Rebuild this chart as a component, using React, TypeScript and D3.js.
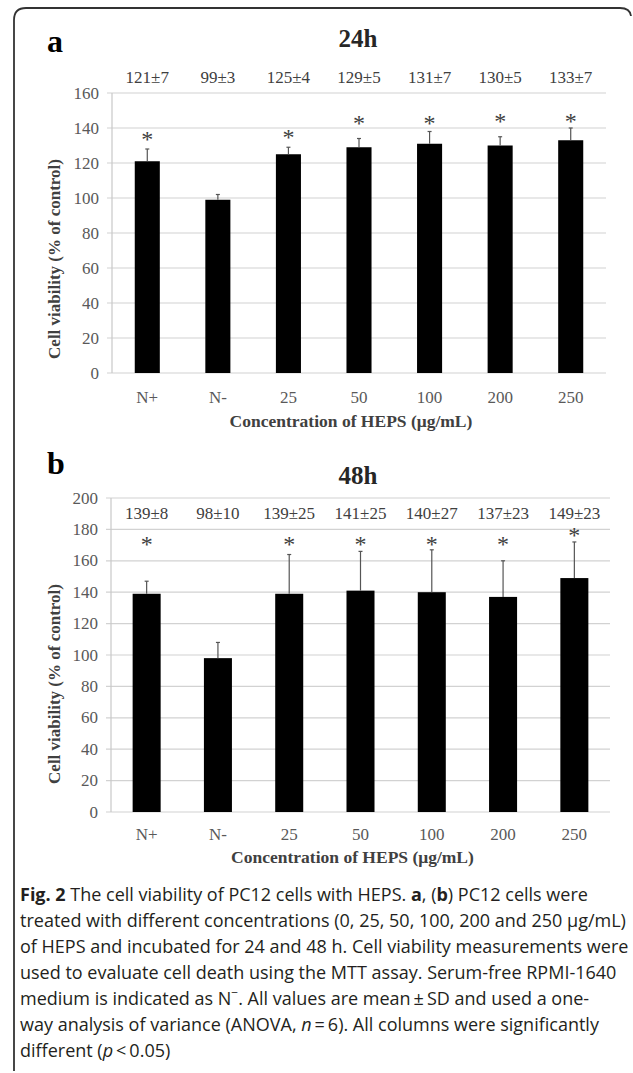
import * as d3 from 'd3';
import { useEffect, useRef } from 'react';

const categories = ['N+', 'N-', '25', '50', '100', '200', '250'];

const mean24 = [121, 99, 125, 129, 131, 130, 133];
const sd24 = [7, 3, 4, 5, 7, 5, 7];
const star24 = [135, null, 136, 144, 144, 145, 145];
const ticks24 = [0, 20, 40, 60, 80, 100, 120, 140, 160];

const mean48 = [139, 98, 139, 141, 140, 137, 149];
const sd48 = [8, 10, 25, 25, 27, 23, 23];
const star48 = [172, null, 172, 172, 172, 172, 178];
const ticks48 = [0, 20, 40, 60, 80, 100, 120, 140, 160, 180, 200];

const captionLines = [
  [{ t: 'Fig. 2', b: true }, { t: ' The cell viability of PC12 cells with HEPS. ' }, { t: 'a', b: true }, { t: ', (' }, { t: 'b', b: true }, { t: ') PC12 cells were' }],
  [{ t: 'treated with different concentrations (0, 25, 50, 100, 200 and 250 μg/mL)' }],
  [{ t: 'of HEPS and incubated for 24 and 48 h. Cell viability measurements were' }],
  [{ t: 'used to evaluate cell death using the MTT assay. Serum-free RPMI-1640' }],
  [{ t: 'medium is indicated as N' }, { t: '−', sup: true }, { t: '. All values are mean\u2009±\u2009SD and used a one-' }],
  [{ t: 'way analysis of variance (ANOVA, ' }, { t: 'n', i: true }, { t: '\u2009=\u20096). All columns were significantly' }],
  [{ t: 'different (' }, { t: 'p', i: true }, { t: '\u2009<\u20090.05)' }],
];

const serif = '"Liberation Serif", "Times New Roman", serif';

function drawPanel(svg, o) {
  const g = svg.append('g');
  const x = d3.scaleBand()
    .domain(categories)
    .range([o.x0, o.x1])
    .paddingInner(o.pad)
    .paddingOuter(o.pad / 2);
  const y = d3.scaleLinear()
    .domain([0, o.max])
    .range([o.bottom, o.top]);
  const cx = (i) => x(categories[i]) + x.bandwidth() / 2;

  // gridlines + outer ticks
  g.selectAll('.grid')
    .data(o.ticks)
    .enter()
    .append('line')
    .attr('x1', o.x0 - 5)
    .attr('x2', o.x1)
    .attr('y1', (d) => y(d))
    .attr('y2', (d) => y(d))
    .attr('stroke', '#d2d2d2')
    .attr('stroke-width', 1.2);
  g.append('line')
    .attr('x1', o.x0)
    .attr('x2', o.x0)
    .attr('y1', y(o.max))
    .attr('y2', y(0))
    .attr('stroke', '#c8c8c8')
    .attr('stroke-width', 1.2);

  g.selectAll('.tick')
    .data(o.ticks)
    .enter()
    .append('text')
    .attr('x', o.x0 - 13)
    .attr('y', (d) => y(d) + 5.5)
    .attr('text-anchor', 'end')
    .attr('font-family', serif)
    .attr('font-size', 17)
    .attr('fill', '#595959')
    .text((d) => d);

  // bars
  g.selectAll('.bar')
    .data(o.mean)
    .enter()
    .append('rect')
    .attr('x', (d, i) => x(categories[i]))
    .attr('y', (d) => y(d))
    .attr('width', x.bandwidth())
    .attr('height', (d) => y(0) - y(d))
    .attr('fill', '#000');

  // error bars (upper half)
  g.selectAll('.err')
    .data(o.mean)
    .enter()
    .append('line')
    .attr('x1', (d, i) => cx(i))
    .attr('x2', (d, i) => cx(i))
    .attr('y1', (d) => y(d))
    .attr('y2', (d, i) => y(d + o.sd[i]))
    .attr('stroke', '#555')
    .attr('stroke-width', 1.2);
  g.selectAll('.cap')
    .data(o.mean)
    .enter()
    .append('line')
    .attr('x1', (d, i) => cx(i) - 2)
    .attr('x2', (d, i) => cx(i) + 2)
    .attr('y1', (d, i) => y(d + o.sd[i]))
    .attr('y2', (d, i) => y(d + o.sd[i]))
    .attr('stroke', '#555')
    .attr('stroke-width', 1.2);

  // significance asterisks
  const stars = o.star
    .map((v, i) => ({ v, i }))
    .filter((d) => d.v !== null);
  g.selectAll('.star')
    .data(stars)
    .enter()
    .append('text')
    .attr('x', (d) => cx(d.i))
    .attr('y', (d) => y(d.v) + 10)
    .attr('text-anchor', 'middle')
    .attr('font-family', serif)
    .attr('font-size', 24)
    .attr('fill', '#404040')
    .text('*');

  // mean ± sd labels
  g.selectAll('.val')
    .data(o.mean)
    .enter()
    .append('text')
    .attr('x', (d, i) => cx(i))
    .attr('y', o.valY)
    .attr('text-anchor', 'middle')
    .attr('font-family', serif)
    .attr('font-size', 17)
    .attr('fill', '#404040')
    .text((d, i) => `${d}±${o.sd[i]}`);

  // category labels
  g.selectAll('.cat')
    .data(categories)
    .enter()
    .append('text')
    .attr('x', (d) => x(d) + x.bandwidth() / 2)
    .attr('y', o.catY)
    .attr('text-anchor', 'middle')
    .attr('font-family', serif)
    .attr('font-size', 17)
    .attr('fill', '#595959')
    .text((d) => d);

  g.append('text')
    .attr('x', (o.x0 + o.x1) / 2 - 8)
    .attr('y', o.xTitleY)
    .attr('text-anchor', 'middle')
    .attr('font-family', serif)
    .attr('font-size', 17.5)
    .attr('font-weight', 'bold')
    .attr('fill', '#404040')
    .text('Concentration of HEPS (μg/mL)');

  g.append('text')
    .attr('transform', `translate(${o.yTitleX},${o.yTitleY}) rotate(-90)`)
    .attr('text-anchor', 'middle')
    .attr('font-family', serif)
    .attr('font-size', 17)
    .attr('font-weight', 'bold')
    .attr('fill', '#404040')
    .text('Cell viability (% of control)');

  g.append('text')
    .attr('x', 358)
    .attr('y', o.titleY)
    .attr('text-anchor', 'middle')
    .attr('font-family', serif)
    .attr('font-size', 25)
    .attr('font-weight', 'bold')
    .attr('fill', '#262626')
    .text(o.title);

  g.append('text')
    .attr('x', 47)
    .attr('y', o.letterY)
    .attr('font-family', serif)
    .attr('font-size', 32)
    .attr('font-weight', 'bold')
    .attr('fill', '#000')
    .text(o.letter);
}

function App() {
  const ref = useRef(null);

  useEffect(() => {
    const svg = d3.select(ref.current);
    svg.selectAll('*').remove();

    // frame
    svg.append('path')
      .attr('d', 'M14,1071 L14,20 Q14,8 26,8 L620,8 Q630,8 631,16')
      .attr('fill', 'none')
      .attr('stroke', '#333')
      .attr('stroke-width', 1.8);

    drawPanel(svg, {
      mean: mean24, sd: sd24, star: star24, ticks: ticks24, max: 160,
      x0: 112, x1: 606, top: 93, bottom: 373, pad: 0.645,
      valY: 83, catY: 403, xTitleY: 427, yTitleX: 60, yTitleY: 259,
      title: '24h', titleY: 47, letter: 'a', letterY: 52,
    });
    drawPanel(svg, {
      mean: mean48, sd: sd48, star: star48, ticks: ticks48, max: 200,
      x0: 111, x1: 610, top: 498, bottom: 812, pad: 0.607,
      valY: 519, catY: 840, xTitleY: 863, yTitleX: 60, yTitleY: 684,
      title: '48h', titleY: 484, letter: 'b', letterY: 474,
    });

    // caption
    const cap = svg.append('g')
      .attr('font-family', '"Open Sans", sans-serif')
      .attr('font-size', 18)
      .attr('fill', '#231f20');
    captionLines.forEach((line, li) => {
      const t = cap.append('text')
        .attr('x', 20)
        .attr('y', 901 + li * 26);
      line.forEach((s) => {
        const span = t.append('tspan').text(s.t);
        if (s.b) span.attr('font-weight', 'bold');
        if (s.i) span.attr('font-style', 'italic');
        if (s.sup) span.attr('baseline-shift', 'super').attr('font-size', 12);
      });
    });
  }, []);

  return (
    <svg
      ref={ref}
      width={633}
      height={1073}
      style={{ position: 'absolute', left: 0, top: 0, background: '#fff' }}
    />
  );
}

export default App;
